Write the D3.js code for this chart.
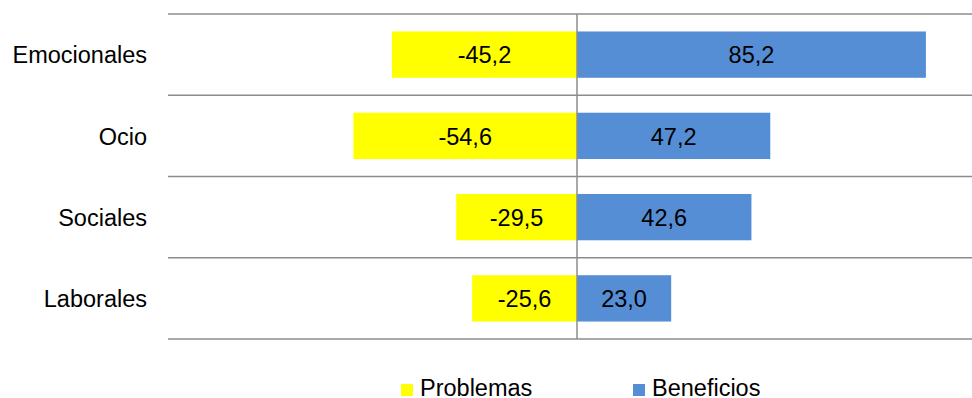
<!DOCTYPE html>
<html>
<head>
<meta charset="utf-8">
<script src="https://cdn.jsdelivr.net/npm/d3@7"></script>
<style>
  body { margin: 0; background: #fff; }
  svg { display: block; font-family: "Liberation Sans", Arial, sans-serif; }
</style>
</head>
<body>
<script>
var categories = ["Emocionales", "Ocio", "Sociales", "Laborales"];
var problemas = [-45.2, -54.6, -29.5, -25.6];
var beneficios = [85.2, 47.2, 42.6, 23.0];
var seriesNames = ["Problemas", "Beneficios"];
var seriesColors = ["#ffff00", "#558ed5"];

var width = 972,
    height = 398;

var svg = d3.select("body").append("svg")
    .attr("width", width)
    .attr("height", height);

var x = d3.scaleLinear()
    .domain([-100, 100])
    .range([167.5, 986.5]);

var y = d3.scaleBand()
    .domain(categories)
    .range([14, 339])
    .paddingInner(0.43)
    .paddingOuter(0.215);

// excel style: comma decimal, plain hyphen for minus
var fmt = function(v) {
    return d3.format(".1f")(v).replace(".", ",").replace("\u2212", "-");
};

// horizontal gridlines between categories
var bounds = d3.range(categories.length + 1).map(function(i) {
    return 14 + i * (339 - 14) / categories.length;
});
svg.selectAll(".grid")
    .data(bounds)
    .enter().append("line")
    .attr("x1", 168)
    .attr("x2", width)
    .attr("y1", function(d) { return d; })
    .attr("y2", function(d) { return d; })
    .attr("stroke", "#8c8c8c")
    .attr("stroke-width", 1.5);

var rows = categories.map(function(c, i) {
    return { cat: c, vals: [problemas[i], beneficios[i]] };
});

var g = svg.selectAll(".row")
    .data(rows)
    .enter().append("g");

g.selectAll("rect")
    .data(function(d) { return d.vals.map(function(v, k) { return { cat: d.cat, v: v, k: k }; }); })
    .enter().append("rect")
    .attr("x", function(d) { return x(Math.min(0, d.v)); })
    .attr("width", function(d) { return Math.abs(x(d.v) - x(0)); })
    .attr("y", function(d) { return y(d.cat); })
    .attr("height", y.bandwidth())
    .attr("fill", function(d) { return seriesColors[d.k]; });

g.selectAll("text.val")
    .data(function(d) { return d.vals.map(function(v, k) { return { cat: d.cat, v: v, k: k }; }); })
    .enter().append("text")
    .attr("class", "val")
    .attr("x", function(d) { return (x(d.v) + x(0)) / 2; })
    .attr("y", function(d) { return y(d.cat) + y.bandwidth() / 2; })
    .attr("dy", "0.37em")
    .attr("text-anchor", "middle")
    .attr("font-size", "23.5px")
    .attr("fill", "#000")
    .text(function(d) { return fmt(d.v); });

// center axis line
svg.append("line")
    .attr("x1", x(0))
    .attr("x2", x(0))
    .attr("y1", 14)
    .attr("y2", 339)
    .attr("stroke", "#8c8c8c")
    .attr("stroke-width", 1.5);

// category labels
svg.selectAll(".cat")
    .data(categories)
    .enter().append("text")
    .attr("x", 147)
    .attr("y", function(d) { return y(d) + y.bandwidth() / 2; })
    .attr("dy", "0.37em")
    .attr("text-anchor", "end")
    .attr("font-size", "23.5px")
    .attr("fill", "#000")
    .text(function(d) { return d; });

// legend
var legX = [401, 633];
var leg = svg.selectAll(".leg")
    .data(seriesNames)
    .enter().append("g")
    .attr("transform", function(d, i) { return "translate(" + legX[i] + ",0)"; });
leg.append("rect")
    .attr("y", 384)
    .attr("width", 12)
    .attr("height", 12)
    .attr("fill", function(d, i) { return seriesColors[i]; });
leg.append("text")
    .attr("x", 19)
    .attr("y", 396)
    .attr("font-size", "23.5px")
    .attr("fill", "#000")
    .text(function(d) { return d; });
</script>
</body>
</html>
